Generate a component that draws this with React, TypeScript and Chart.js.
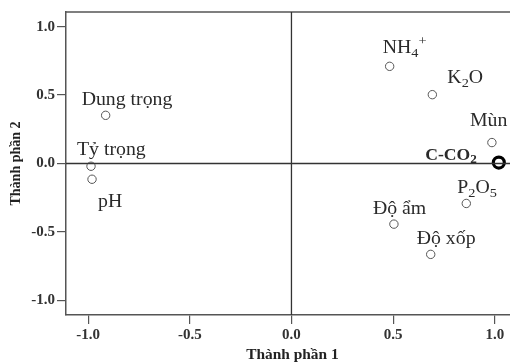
import React, { useEffect, useRef } from "react";
import { Chart, registerables } from "chart.js";

Chart.register(...registerables);

// ---- data ----
const variables = ["Dung trọng", "Tỷ trọng", "pH", "NH_4^+", "K_2O", "Mùn", "C-CO_2", "P_2O_5", "Độ ẩm", "Độ xốp"];
const component1 = [-0.914, -0.986, -0.981, 0.483, 0.693, 0.986, 1.02, 0.86, 0.504, 0.685];
const component2 = [0.352, -0.02, -0.115, 0.71, 0.503, 0.153, 0.007, -0.292, -0.443, -0.664];
const tickValues = [-1.0, -0.5, 0.0, 0.5, 1.0];
const xAxisTitle = "Thành phần 1";
const yAxisTitle = "Thành phần 2";
const highlighted = "C-CO_2";

// ---- label placement (pixel offsets from the point; align) ----
const labelOffsets: [number, number, "left" | "right"][] = [
  [-24, -15, "left"],
  [-14, -16, "left"],
  [6, 23, "left"],
  [-7, -18, "left"],
  [15, -16, "left"],
  [-22, -21, "left"],
  [-22, -7, "right"],
  [-9, -15, "left"],
  [-21, -15, "left"],
  [-14, -15, "left"],
];

const SERIF = "'Liberation Serif', 'Times New Roman', serif";
const TEXT = "#2a2a2a";
const AXIS = "#555555";
const STRETCH = 1.1;

type Seg = { t: string; m: "n" | "sub" | "sup" };
function parseLabel(s: string): Seg[] {
  const out: Seg[] = [];
  for (let i = 0; i < s.length; i++) {
    const c = s[i];
    if ((c === "_" || c === "^") && i + 1 < s.length) {
      out.push({ t: s[i + 1], m: c === "_" ? "sub" : "sup" });
      i++;
    } else {
      const last = out[out.length - 1];
      if (last && last.m === "n") last.t += c;
      else out.push({ t: c, m: "n" });
    }
  }
  return out;
}

function drawRich(ctx: CanvasRenderingContext2D, s: string, x: number, y: number, align: "left" | "right", size: number, bold: boolean) {
  const segs = parseLabel(s);
  const w = bold ? "bold " : "";
  const small = Math.round(size * 0.72);
  let total = 0;
  for (const g of segs) {
    ctx.font = `${w}${g.m === "n" ? size : small}px ${SERIF}`;
    total += ctx.measureText(g.t).width;
  }
  total *= STRETCH;
  const startX = align === "left" ? x : x - total;
  ctx.save();
  ctx.translate(startX, y);
  ctx.scale(STRETCH, 1);
  ctx.textBaseline = "middle";
  ctx.textAlign = "left";
  let cx = 0;
  for (const g of segs) {
    ctx.font = `${w}${g.m === "n" ? size : small}px ${SERIF}`;
    const dy = g.m === "sub" ? size * 0.3 : g.m === "sup" ? -size * 0.35 : 0;
    ctx.fillText(g.t, cx, dy);
    cx += ctx.measureText(g.t).width;
  }
  ctx.restore();
}

const overlayPlugin = {
  id: "overlay",
  afterDatasetsDraw(chart: any) {
    const { ctx, chartArea, scales } = chart;
    const xs = scales.x;
    const ys = scales.y;
    ctx.save();
    // top border
    ctx.strokeStyle = AXIS;
    ctx.lineWidth = 1.5;
    ctx.beginPath();
    ctx.moveTo(chartArea.left, chartArea.top);
    ctx.lineTo(chartArea.right, chartArea.top);
    ctx.stroke();
    // reference lines
    ctx.strokeStyle = "#333333";
    ctx.lineWidth = 1.3;
    const x0 = xs.getPixelForValue(0);
    const y0 = ys.getPixelForValue(0);
    ctx.beginPath();
    ctx.moveTo(x0, chartArea.top);
    ctx.lineTo(x0, chartArea.bottom);
    ctx.moveTo(chartArea.left, y0);
    ctx.lineTo(chartArea.right, y0);
    ctx.stroke();
    // labels
    ctx.fillStyle = TEXT;
    const meta = chart.getDatasetMeta(0);
    meta.data.forEach((pt: any, i: number) => {
      const [dx, dy, al] = labelOffsets[i];
      const bold = variables[i] === highlighted;
      drawRich(ctx, variables[i], pt.x + dx, pt.y + dy, al, bold ? 16 : 18, bold);
    });
    // axis titles
    ctx.fillStyle = "#222";
    ctx.textAlign = "center";
    ctx.textBaseline = "middle";
    ctx.font = `bold 14px ${SERIF}`;
    ctx.save();
    ctx.translate(x0 + 1, 355);
    ctx.scale(STRETCH, 1);
    ctx.fillText(xAxisTitle, 0, 0);
    ctx.restore();
    ctx.save();
    ctx.translate(16, (chartArea.top + chartArea.bottom) / 2);
    ctx.rotate(-Math.PI / 2);
    ctx.fillText(yAxisTitle, 0, 0);
    ctx.restore();
    ctx.restore();
  },
};

export default function App() {
  const ref = useRef<HTMLCanvasElement | null>(null);
  useEffect(() => {
    if (!ref.current) return;
    const points = component1.map((x, i) => ({ x, y: component2[i] }));
    const tickFont = { family: SERIF, size: 15, weight: "bold" as const };
    const chart = new Chart(ref.current, {
      type: "scatter",
      data: {
        datasets: [
          {
            data: points,
            backgroundColor: "rgba(255,255,255,0)",
            borderColor: (c: any) => (variables[c.dataIndex] === highlighted ? "#000" : "#555"),
            borderWidth: (c: any) => (variables[c.dataIndex] === highlighted ? 3.2 : 1),
            pointRadius: (c: any) => (variables[c.dataIndex] === highlighted ? 5.5 : 4.2),
            pointHoverRadius: 4,
            clip: false,
          } as any,
        ],
      },
      options: {
        animation: false,
        responsive: false,
        devicePixelRatio: 1,
        layout: { autoPadding: false, padding: { top: 12, right: 0, left: 0, bottom: 0 } },
        plugins: { legend: { display: false }, tooltip: { enabled: false } },
        scales: {
          x: {
            type: "linear",
            min: -1.109,
            max: 1.075,
            afterBuildTicks: (s: any) => {
              s.ticks = tickValues.map((v) => ({ value: v }));
            },
            afterFit: (s: any) => {
              s.height = 47;
              s.paddingLeft = 0;
              s.paddingRight = 0;
            },
            ticks: {
              callback: (v: any) => Number(v).toFixed(1),
              font: tickFont,
              color: "#333",
              padding: 2,
              maxRotation: 0,
            },
            grid: { drawOnChartArea: false, drawTicks: true, tickLength: 9, color: AXIS, lineWidth: 1.2 },
            border: { display: true, color: AXIS, width: 1.5 },
          },
          y: {
            type: "linear",
            min: -1.107,
            max: 1.107,
            afterBuildTicks: (s: any) => {
              s.ticks = tickValues.map((v) => ({ value: v }));
            },
            afterFit: (s: any) => {
              s.width = 66;
              s.paddingTop = 0;
              s.paddingBottom = 0;
            },
            ticks: {
              callback: (v: any) => Number(v).toFixed(1),
              font: tickFont,
              color: "#333",
              padding: 2,
            },
            grid: { drawOnChartArea: false, drawTicks: true, tickLength: 9, color: AXIS, lineWidth: 1.2 },
            border: { display: true, color: AXIS, width: 1.5 },
          },
        },
      },
      plugins: [overlayPlugin],
    });
    return () => chart.destroy();
  }, []);
  return (
    <div style={{ position: "fixed", left: 0, top: 0, width: 510, height: 362, background: "#fff" }}>
      <canvas ref={ref} width={510} height={362} style={{ width: 510, height: 362 }} />
    </div>
  );
}
